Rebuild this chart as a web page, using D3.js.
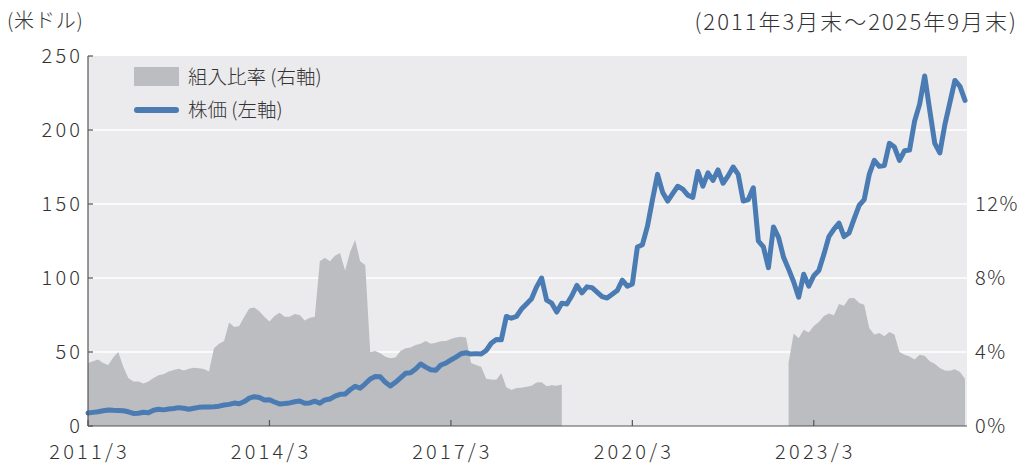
<!DOCTYPE html>
<html>
<head>
<meta charset="utf-8">
<script src="https://cdn.jsdelivr.net/npm/d3@7"></script>
<style>
  body { margin: 0; background: #fff; }
  svg text { font-family: "Noto Sans CJK JP", "Noto Sans", sans-serif; font-weight: 300; fill: #333; }
</style>
</head>
<body>
<svg id="chart" width="1025" height="464"></svg>
<script>
// monthly, 2011/3 .. 2025/9 (index 0 = 2011/3)
const price = [
  8.8, 9.2, 9.6, 10.3, 10.8, 10.6, 10.5, 10.3, 9.6, 8.5,
  8.6, 9.3, 9.0, 10.6, 11.3, 10.9, 11.5, 11.8, 12.4, 12.0,
  11.3, 12.0, 12.6, 12.8, 12.8, 13.0, 13.4, 14.2, 14.6, 15.5,
  15.0, 16.5, 18.8, 19.8, 19.2, 17.6, 17.8, 16.2, 14.9, 15.2,
  15.6, 16.4, 16.9, 15.4, 15.6, 16.8, 15.4, 17.6, 18.2, 20.2,
  21.4, 21.6, 24.5, 26.8, 25.6, 28.5, 31.8, 33.5, 33.2, 29.5,
  27.0, 29.5, 32.5, 35.6, 36.0, 38.5, 41.9, 39.8, 38.0, 37.6,
  41.2, 42.5, 44.6, 46.5, 48.8, 49.5, 48.6, 48.9, 48.6, 51.0,
  55.9, 58.4, 58.2, 74.0, 72.8, 74.0, 79.0, 82.5, 86.0, 94.0,
  100.0, 85.0, 83.0, 77.0, 83.0, 82.4, 88.0, 95.0, 90.0, 94.0,
  93.5, 90.5, 87.4, 86.5, 89.0, 91.5, 98.5, 94.5, 96.0, 121.0,
  122.5, 135.0, 153.0, 170.0, 158.0, 152.0, 157.0, 162.0, 160.0, 156.0,
  154.5, 172.0, 162.0, 171.0, 166.0, 173.0, 164.0, 169.0, 175.0, 170.0,
  152.0, 153.0, 161.0, 125.0, 121.0, 107.0, 134.5, 127.5, 114.0, 106.0,
  97.5, 87.0, 102.5, 94.5, 101.5, 105.0, 116.0, 128.0, 133.0, 137.0,
  128.0, 130.5, 140.0, 149.0, 153.0, 170.0, 179.5, 175.5, 176.0, 191.0,
  188.5, 179.5, 186.0, 186.5, 206.0, 217.5, 236.5, 213.5, 191.0, 184.5,
  203.5, 218.5, 233.5, 229.5, 220.0
];

// weight in % (null = not held)
const weight = [
  3.4, 3.5, 3.6, 3.4, 3.3, 3.7, 4.0, 3.2, 2.6, 2.4,
  2.4, 2.3, 2.4, 2.6, 2.75, 2.8, 2.95, 3.03, 3.1, 3.0,
  3.1, 3.15, 3.12, 3.08, 2.95, 4.2, 4.45, 4.6, 5.6, 5.35,
  5.4, 5.9, 6.35, 6.4, 6.2, 5.9, 5.65, 5.95, 6.12, 5.91,
  5.9, 6.05, 6.0, 5.7, 5.85, 5.9, 8.9, 9.1, 8.9, 9.2,
  9.35, 8.4, 9.4, 10.05, 8.9, 8.7, 4.0, 4.05, 3.93, 3.75,
  3.66, 3.7, 4.05, 4.2, 4.25, 4.38, 4.45, 4.6, 4.45, 4.5,
  4.58, 4.6, 4.7, 4.78, 4.83, 4.78, 3.4, 3.3, 3.2, 2.55,
  2.52, 2.5, 2.85, 2.1, 1.95, 2.05, 2.07, 2.12, 2.17, 2.35,
  2.36, 2.15, 2.2, 2.17, 2.25, null, null, null, null, null,
  null, null, null, null, null, null, null, null, null, null,
  null, null, null, null, null, null, null, null, null, null,
  null, null, null, null, null, null, null, null, null, null,
  null, null, null, null, null, null, null, null, null, 3.4,
  5.0, 4.75, 5.2, 5.05, 5.4, 5.62, 5.95, 6.08, 5.98, 6.6,
  6.5, 6.9, 6.92, 6.65, 6.55, 5.3, 4.95, 5.03, 4.85, 5.08,
  4.95, 4.0, 3.85, 3.76, 3.6, 3.85, 3.8, 3.5, 3.36, 3.13,
  3.0, 2.99, 3.07, 2.92, 2.55
];

const xTickIdx = [0, 36, 72, 108, 144];
const xTickLabels = ['2011/3', '2014/3', '2017/3', '2020/3', '2023/3'];
const leftTicks = [0, 50, 100, 150, 200, 250];
const rightTicks = [0, 4, 8, 12];

const plotL = 88, plotR = 967, plotT = 56, plotB = 426;
const tickLS = 3.2; // wide digits in the original
const svg = d3.select('#chart');

const x = d3.scaleLinear().domain([0, price.length - 1]).range([plotL, 965]);
const y = d3.scaleLinear().domain([0, 250]).range([plotB, plotT]);
const yR = d3.scaleLinear().domain([0, 20]).range([plotB, plotT]);

// plot background
svg.append('rect')
    .attr('x', plotL).attr('y', plotT)
    .attr('width', plotR - plotL).attr('height', plotB - plotT)
    .attr('fill', '#ebebee');

// gridlines
svg.append('g')
    .selectAll('line')
    .data(leftTicks.filter(d => d > 0 && d < 250))
    .enter()
    .append('line')
    .attr('x1', plotL).attr('x2', plotR)
    .attr('y1', d => y(d)).attr('y2', d => y(d))
    .attr('stroke', '#fff')
    .attr('stroke-width', 1.5);

// weight area
const area = d3.area()
    .defined(d => d !== null)
    .x((d, i) => x(i))
    .y0(plotB)
    .y1(d => yR(d));
svg.append('path')
    .datum(weight)
    .attr('fill', '#bcbdc1')
    .attr('d', area);

// price line
const line = d3.line()
    .x((d, i) => x(i))
    .y(d => y(d));
svg.append('path')
    .datum(price)
    .attr('fill', 'none')
    .attr('stroke', '#4a7bb3')
    .attr('stroke-width', 5)
    .attr('stroke-linejoin', 'round')
    .attr('stroke-linecap', 'round')
    .attr('d', line);

// left axis
const axisG = svg.append('g');
axisG.append('line')
    .attr('x1', plotL).attr('x2', plotL)
    .attr('y1', plotT).attr('y2', plotB)
    .attr('stroke', '#555').attr('stroke-width', 1.2);
axisG.selectAll('.lt')
    .data(leftTicks)
    .enter()
    .append('line')
    .attr('x1', plotL).attr('x2', plotL + 5)
    .attr('y1', d => y(d)).attr('y2', d => y(d))
    .attr('stroke', '#555').attr('stroke-width', 1.2);
axisG.selectAll('.ll')
    .data(leftTicks)
    .enter()
    .append('text')
    .attr('x', 80 + tickLS)
    .attr('y', d => y(d))
    .attr('dy', '0.36em')
    .attr('text-anchor', 'end')
    .attr('font-size', 20)
    .attr('letter-spacing', tickLS)
    .text(d => d);

// bottom axis
axisG.append('line')
    .attr('x1', plotL).attr('x2', plotR)
    .attr('y1', plotB).attr('y2', plotB)
    .attr('stroke', '#555').attr('stroke-width', 1.2);
axisG.selectAll('.bt')
    .data(xTickIdx)
    .enter()
    .append('line')
    .attr('x1', d => x(d)).attr('x2', d => x(d))
    .attr('y1', plotB).attr('y2', plotB - 6)
    .attr('stroke', '#555').attr('stroke-width', 1.2);
axisG.selectAll('.bl')
    .data(xTickIdx)
    .enter()
    .append('text')
    .attr('x', d => x(d) + tickLS / 2)
    .attr('y', 452)
    .attr('dy', '0.36em')
    .attr('text-anchor', 'middle')
    .attr('font-size', 20)
    .attr('letter-spacing', tickLS)
    .text((d, i) => xTickLabels[i]);

// right labels
axisG.selectAll('.rl')
    .data(rightTicks)
    .enter()
    .append('text')
    .attr('x', 975)
    .attr('y', d => yR(d))
    .attr('dy', '0.36em')
    .attr('font-size', 20)
    .attr('letter-spacing', 1.5)
    .text(d => d + '%');

// titles
svg.append('text')
    .attr('x', 7).attr('y', 21)
    .attr('dy', '0.36em')
    .attr('font-size', 20)
    .attr('letter-spacing', 0.8)
    .text('(米ドル)');
svg.append('text')
    .attr('x', 1018).attr('y', 22)
    .attr('dy', '0.36em')
    .attr('text-anchor', 'end')
    .attr('font-size', 22)
    .attr('letter-spacing', 2)
    .text('(2011年3月末～2025年9月末)');

// legend
const lg = svg.append('g');
lg.append('rect')
    .attr('x', 134).attr('y', 67)
    .attr('width', 45).attr('height', 19)
    .attr('fill', '#bcbdc1');
lg.append('text')
    .attr('x', 188).attr('y', 77)
    .attr('dy', '0.36em')
    .attr('font-size', 19.5)
    .text('組入比率 (右軸)');
lg.append('line')
    .attr('x1', 137).attr('x2', 176)
    .attr('y1', 110).attr('y2', 110)
    .attr('stroke', '#4a7bb3')
    .attr('stroke-width', 6)
    .attr('stroke-linecap', 'round');
lg.append('text')
    .attr('x', 188).attr('y', 110)
    .attr('dy', '0.36em')
    .attr('font-size', 19.5)
    .text('株価 (左軸)');
</script>
</body>
</html>
